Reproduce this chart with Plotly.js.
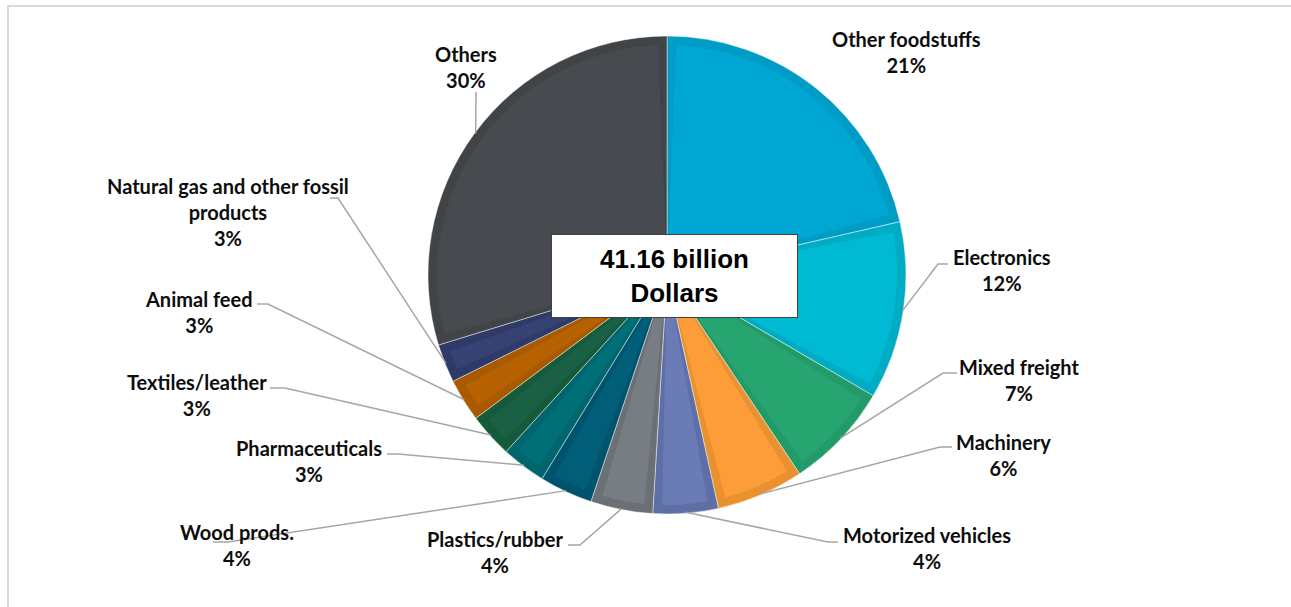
<!DOCTYPE html>
<html>
<head>
<meta charset="utf-8">
<script src="https://cdn.plot.ly/plotly-3.0.1.min.js"></script>
<style>
html,body{margin:0;padding:0;background:#ffffff;}
#chart{width:1291px;height:607px;}
</style>
</head>
<body>
<div id="chart"></div>
<script>
// ---------------- data ----------------
const categories = ['Other foodstuffs','Electronics','Mixed freight','Machinery','Motorized vehicles','Plastics/rubber','Wood prods.','Pharmaceuticals','Textiles/leather','Animal feed','Natural gas and other fossil products','Others'];
const shares = [21.4, 12.0, 7.2, 5.9, 4.4, 4.2, 3.6, 3.0, 3.0, 2.9, 2.6, 29.7];
const centerLines = ['41.16 billion', 'Dollars'];

// ---------------- styles ----------------
const edgeColors = ['#009cc6','#00acc3','#239a69','#e8912e','#5e6fa5','#6a7075','#00536c','#00656c','#165a3c','#a85a00','#2f3a68','#404447'];
const fillColors = ['#00a7d2','#00b9d3','#27a571','#fc9d39','#6a7bb5','#777d82','#005e79','#006f77','#1a6044','#b86100','#364273','#474b4f'];

// ---------------- layout (pixels) ----------------
const W = 1291, H = 607, CX = 667, CY = 275, R = 239, BEVEL = 9;
const labelPos = [[906,52],[1002,270],[1019,380],[1003,455],[927,548],[495,552],[237,545],[309,461],[197,395],[199,312],[228,212],[466,67]];
const leaderStart = [null,[948,264],[957,373],[952,447],[838,542],[568,545],[213,542],[387,454],[270,388],[257,304],[330,198],[476,92]];
const leaderElbow = [null,[938,264],[943,373],[940,447],[828,542],[580,545],[228,542],[398,454],[285,388],[268,304],[338,198],[476,92]];
const boxCenter = [674, 275.5], boxW = 245, boxH = 82;

const px = x => x / W;
const py = y => 1 - y / H;

const total = shares.reduce((a, b) => a + b, 0);
const sliceDeg = shares.map(v => v / total * 360);
const mids = [];
let acc = 0;
sliceDeg.forEach(d => { mids.push(acc + d / 2); acc += d; });
const insetDeg = BEVEL / (R - BEVEL) * 180 / Math.PI;

const dom = {x: [px(CX - R), px(CX + R)], y: [py(CY + R), py(CY - R)]};

const pieTrace = {
  type: 'pie', labels: categories, values: shares, sort: false,
  direction: 'clockwise', rotation: 0, domain: dom,
  marker: {colors: edgeColors, line: {color: 'rgba(255,255,255,0.75)', width: 0.6}},
  textinfo: 'none', hoverinfo: 'label+percent', showlegend: false
};
const bevelTrace = {
  type: 'barpolar', subplot: 'polar',
  theta: mids,
  width: sliceDeg.map(d => Math.max(d - 2 * insetDeg, 0.4)),
  r: shares.map(() => (R - BEVEL) / R),
  marker: {color: fillColors, line: {width: 0}},
  hoverinfo: 'skip', showlegend: false
};

const annotations = categories.map((c, i) => ({
  xref: 'paper', yref: 'paper', x: px(labelPos[i][0]), y: py(labelPos[i][1]),
  xanchor: 'center', yanchor: 'middle', showarrow: false, align: 'center',
  text: c.replace('fossil products', 'fossil<br>products') + '<br>' + Math.round(shares[i] / total * 100) + '%',
  font: {family: 'Lato, "Open Sans", sans-serif', size: 20, color: '#0d0d0d', weight: 'bold'}
}));
annotations.push({
  xref: 'paper', yref: 'paper', x: px(boxCenter[0]), y: py(boxCenter[1]),
  xanchor: 'center', yanchor: 'middle', showarrow: false, align: 'center', valign: 'middle',
  width: boxW, height: boxH, bgcolor: '#ffffff', bordercolor: '#404040', borderwidth: 1, borderpad: 0,
  text: centerLines.join('<br>'),
  font: {family: '"Liberation Sans", Arial, sans-serif', size: 26, color: '#000000', weight: 'bold'}
});

const shapes = [];
categories.forEach((c, i) => {
  if (!leaderStart[i]) return;
  const a = mids[i] * Math.PI / 180;
  const ex = CX + (R - 1) * Math.sin(a), ey = CY - (R - 1) * Math.cos(a);
  const s = leaderStart[i], e = leaderElbow[i];
  shapes.push({
    type: 'path', xref: 'paper', yref: 'paper', layer: 'above',
    path: 'M ' + px(s[0]) + ',' + py(s[1]) + ' L ' + px(e[0]) + ',' + py(e[1]) + ' L ' + px(ex) + ',' + py(ey),
    line: {color: '#a6a6a6', width: 1.5}
  });
});
// outer frame (top and left edges)
shapes.push({type: 'line', xref: 'paper', yref: 'paper', x0: px(7), x1: px(W), y0: py(6), y1: py(6), line: {color: '#d9d9d9', width: 2}});
shapes.push({type: 'line', xref: 'paper', yref: 'paper', x0: px(8), x1: px(8), y0: py(5), y1: py(H), line: {color: '#d9d9d9', width: 2}});

const layout = {
  width: W, height: H, margin: {l: 0, r: 0, t: 0, b: 0},
  paper_bgcolor: '#ffffff', plot_bgcolor: '#ffffff', showlegend: false,
  polar: {
    domain: dom, bgcolor: 'rgba(0,0,0,0)', bargap: 0, hole: 0,
    angularaxis: {visible: false, rotation: 90, direction: 'clockwise', showgrid: false, showline: false},
    radialaxis: {visible: false, range: [0, 1], showgrid: false, showline: false}
  },
  annotations: annotations, shapes: shapes
};

Plotly.newPlot('chart', [pieTrace, bevelTrace], layout, {staticPlot: true}).then(gd => {
  const polar = gd.querySelector('.polarlayer');
  const pie = gd.querySelector('.pielayer');
  if (polar && pie) pie.parentNode.insertBefore(polar, pie.nextSibling);
});
</script>
</body>
</html>
